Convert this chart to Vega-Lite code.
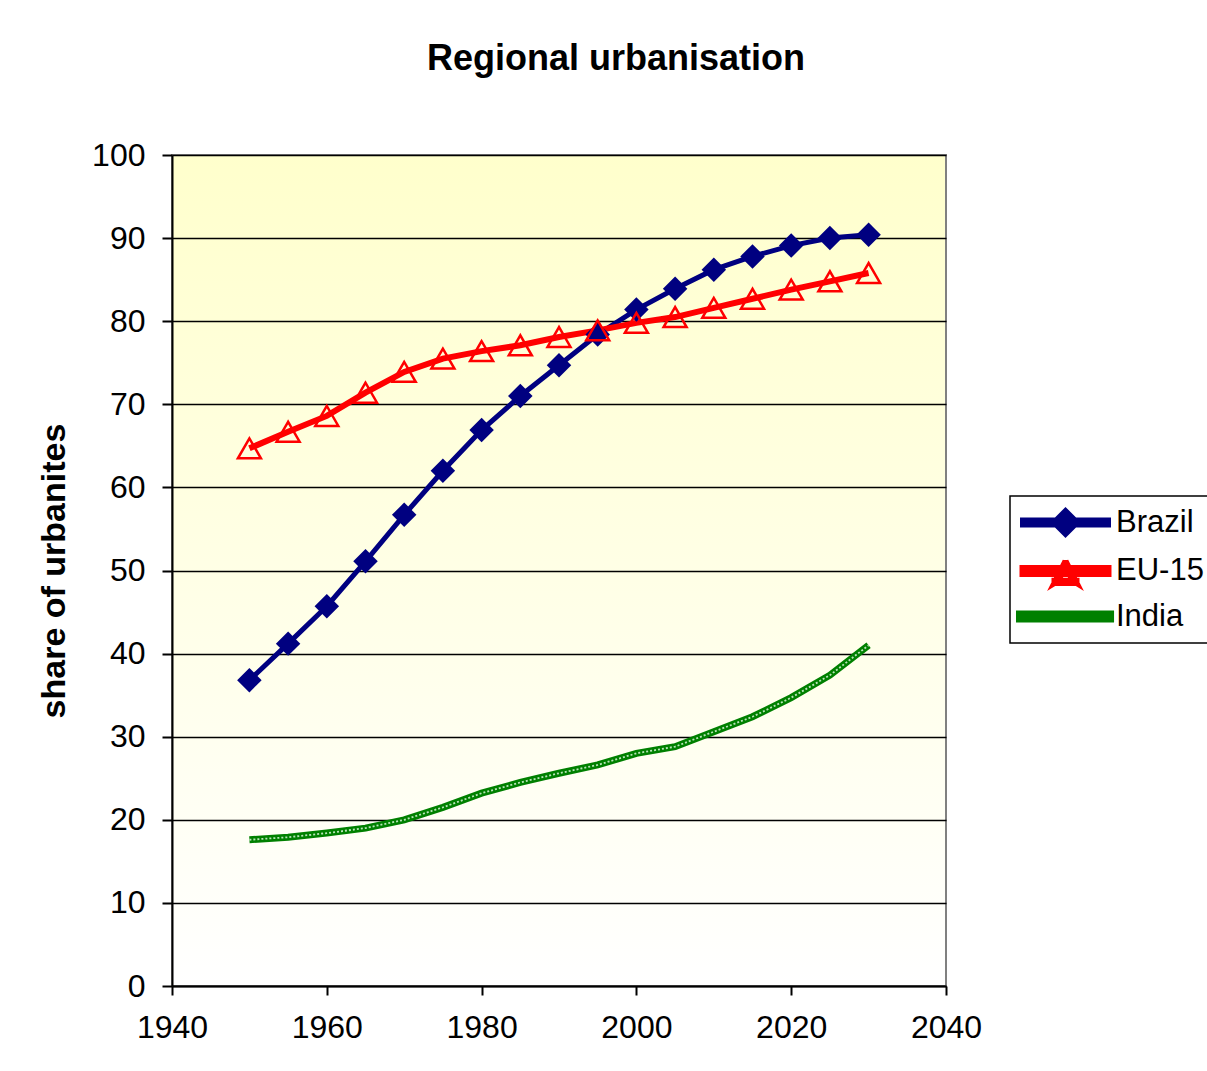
{
  "$schema": "https://vega.github.io/schema/vega-lite/v6.json",
  "width": 774,
  "height": 831,
  "autosize": {"type": "none"},
  "padding": {"left": 172, "top": 155, "right": 261, "bottom": 85},
  "background": "white",
  "title": {"text": "Regional urbanisation", "fontSize": 36, "font": "Liberation Sans", "fontWeight": "bold", "color": "black", "anchor": "middle", "frame": "group", "dx": 57, "offset": 61},
  "config": {
    "font": "Liberation Sans",
    "view": {"stroke": "#808080", "strokeWidth": 2, "fill": {"gradient": "linear", "x1": 0, "y1": 0, "x2": 0, "y2": 1, "stops": [{"offset": 0, "color": "#FFFFCC"}, {"offset": 1, "color": "#FFFFFF"}]}}
  },
  "data": {"values": [
    {"year": 1950, "region": "Brazil", "share": 36.8},
    {"year": 1955, "region": "Brazil", "share": 41.2},
    {"year": 1960, "region": "Brazil", "share": 45.7},
    {"year": 1965, "region": "Brazil", "share": 51.1},
    {"year": 1970, "region": "Brazil", "share": 56.7},
    {"year": 1975, "region": "Brazil", "share": 62.0},
    {"year": 1980, "region": "Brazil", "share": 66.9},
    {"year": 1985, "region": "Brazil", "share": 71.0},
    {"year": 1990, "region": "Brazil", "share": 74.7},
    {"year": 1995, "region": "Brazil", "share": 78.4},
    {"year": 2000, "region": "Brazil", "share": 81.4},
    {"year": 2005, "region": "Brazil", "share": 83.9},
    {"year": 2010, "region": "Brazil", "share": 86.2},
    {"year": 2015, "region": "Brazil", "share": 87.8},
    {"year": 2020, "region": "Brazil", "share": 89.1},
    {"year": 2025, "region": "Brazil", "share": 90.0},
    {"year": 2030, "region": "Brazil", "share": 90.4},
    {"year": 1950, "region": "EU-15", "share": 64.7},
    {"year": 1955, "region": "EU-15", "share": 66.7},
    {"year": 1960, "region": "EU-15", "share": 68.6},
    {"year": 1965, "region": "EU-15", "share": 71.4},
    {"year": 1970, "region": "EU-15", "share": 73.9},
    {"year": 1975, "region": "EU-15", "share": 75.5},
    {"year": 1980, "region": "EU-15", "share": 76.4},
    {"year": 1985, "region": "EU-15", "share": 77.1},
    {"year": 1990, "region": "EU-15", "share": 78.1},
    {"year": 1995, "region": "EU-15", "share": 78.9},
    {"year": 2000, "region": "EU-15", "share": 79.8},
    {"year": 2005, "region": "EU-15", "share": 80.5},
    {"year": 2010, "region": "EU-15", "share": 81.6},
    {"year": 2015, "region": "EU-15", "share": 82.7},
    {"year": 2020, "region": "EU-15", "share": 83.8},
    {"year": 2025, "region": "EU-15", "share": 84.8},
    {"year": 2030, "region": "EU-15", "share": 85.8},
    {"year": 1950, "region": "India", "share": 17.6},
    {"year": 1955, "region": "India", "share": 17.9},
    {"year": 1960, "region": "India", "share": 18.4},
    {"year": 1965, "region": "India", "share": 19.0},
    {"year": 1970, "region": "India", "share": 20.0},
    {"year": 1975, "region": "India", "share": 21.5},
    {"year": 1980, "region": "India", "share": 23.2},
    {"year": 1985, "region": "India", "share": 24.5},
    {"year": 1990, "region": "India", "share": 25.6},
    {"year": 1995, "region": "India", "share": 26.6},
    {"year": 2000, "region": "India", "share": 28.0},
    {"year": 2005, "region": "India", "share": 28.8},
    {"year": 2010, "region": "India", "share": 30.6},
    {"year": 2015, "region": "India", "share": 32.4},
    {"year": 2020, "region": "India", "share": 34.7},
    {"year": 2025, "region": "India", "share": 37.4},
    {"year": 2030, "region": "India", "share": 41.0}
  ]},
  "encoding": {
    "x": {"field": "year", "type": "quantitative", "scale": {"domain": [1940, 2040], "nice": false, "zero": false},
      "axis": {"title": null, "values": [1940, 1960, 1980, 2000, 2020, 2040], "format": "d", "grid": false, "domainColor": "black", "domainWidth": 2, "tickColor": "black", "tickWidth": 2, "tickSize": 9, "labelFontSize": 32, "labelColor": "black", "labelPadding": 17, "labelFont": "Liberation Sans", "labelFlush": false}},
    "y": {"field": "share", "type": "quantitative", "scale": {"domain": [0, 100], "nice": false},
      "axis": {"title": "share of urbanites", "titleFontSize": 34, "titleFontWeight": "bold", "titleColor": "black", "titleFont": "Liberation Sans", "titlePadding": 20, "values": [0, 10, 20, 30, 40, 50, 60, 70, 80, 90, 100], "grid": true, "gridColor": "black", "gridWidth": 1.5, "gridOpacity": 1, "domainColor": "black", "domainWidth": 2, "tickColor": "black", "tickWidth": 2, "tickSize": 10, "labelFontSize": 32, "labelColor": "black", "labelPadding": 17, "labelFont": "Liberation Sans"}}
  },
  "layer": [
    {
      "mark": {"type": "line", "interpolate": "linear"},
      "encoding": {
        "color": {"field": "region", "type": "nominal",
          "scale": {"domain": ["Brazil", "EU-15", "India"], "range": ["#000080", "#FF0000", "#008000"]},
          "legend": {"title": null, "orient": "none", "legendX": 838, "legendY": 341,
            "labelFontSize": 31, "labelColor": "black", "labelFont": "Liberation Sans", "labelOffset": 60,
            "symbolSize": 900, "rowPadding": 3, "padding": 9,
            "strokeColor": "black", "fillColor": "white",
            "encode": {
              "legend": {"update": {"strokeWidth": {"value": 1.5}}},
              "symbols": {"update": {
              "shape": {"signal": "datum.value === 'Brazil' ? 'M-1,-0.167H4.733V0.167H-1Z M1.067,0L1.867,-0.8L2.667,0L1.867,0.8Z' : datum.value === 'EU-15' ? 'M-1,-0.2H4.733V0.2H-1Z M1.133,0.65H2.6V0.8H1.133Z M1.867,-0.667L1.867,-0.33L1.377,0.65L1.133,0.8Z M1.867,-0.667L2.6,0.8L2.357,0.65L1.867,-0.33Z' : 'M-1.2,-0.167H4.87V0.167H-1.2Z'"},
              "fill": {"signal": "datum.value === 'Brazil' ? '#000080' : datum.value === 'EU-15' ? '#FF0000' : '#008000'"},
              "fillOpacity": {"value": 1},
              "opacity": {"value": 1},
              "strokeWidth": {"value": 0},
              "size": {"value": 900}
            }}}}},
        "strokeWidth": {"field": "region", "type": "nominal", "scale": {"domain": ["Brazil", "EU-15", "India"], "range": [5, 7, 5]}, "legend": null}
      }
    },
    {
      "transform": [{"filter": "datum.region === 'India'"}],
      "mark": {"type": "line", "color": "#B8E4B8", "strokeWidth": 1.8, "strokeDash": [2, 2]}
    },
    {
      "transform": [{"filter": "datum.region === 'Brazil'"}],
      "mark": {"type": "point", "shape": "diamond", "filled": true, "color": "#000080", "size": 600, "opacity": 1}
    },
    {
      "transform": [{"filter": "datum.region === 'EU-15'"}],
      "mark": {"type": "point", "shape": "triangle-up", "filled": false, "color": "#FF0000", "size": 529, "strokeWidth": 2.5, "opacity": 1}
    }
  ]
}
